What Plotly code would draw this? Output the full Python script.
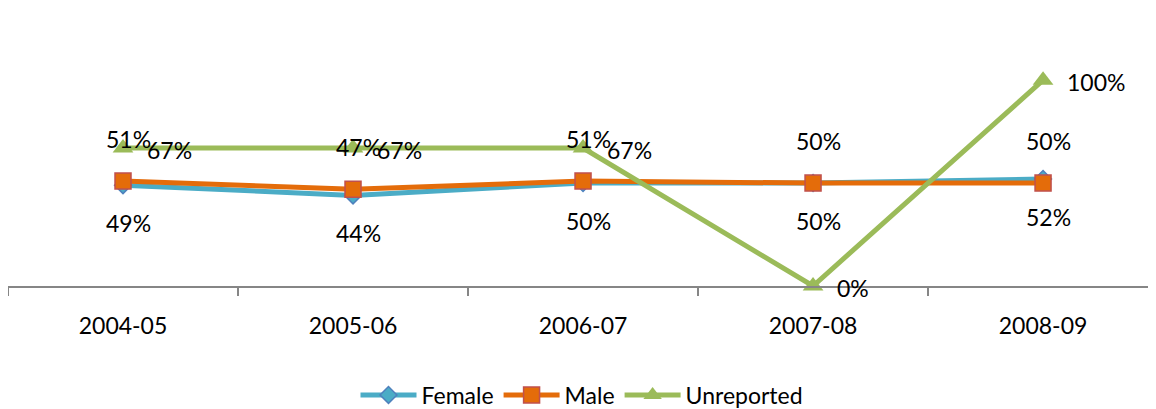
import plotly.graph_objects as go

years = ["2004-05", "2005-06", "2006-07", "2007-08", "2008-09"]
female = [0.49, 0.44, 0.50, 0.50, 0.52]
male = [0.51, 0.47, 0.51, 0.50, 0.50]
unreported = [0.67, 0.67, 0.67, 0.00, 1.00]

FONT = "Lato"
FS = 23

fig = go.Figure()
fig.add_trace(go.Scatter(
    x=years, y=female, name="Female", mode="lines+markers",
    line=dict(color="#4BACC6", width=5),
    marker=dict(symbol="diamond", size=13, color="#4BACC6",
                line=dict(color="#4F81BD", width=1.5)),
    cliponaxis=False))
fig.add_trace(go.Scatter(
    x=years, y=male, name="Male", mode="lines+markers",
    line=dict(color="#E46C0A", width=5),
    marker=dict(symbol="square", size=16, color="#E46C0A",
                line=dict(color="#C0504D", width=1.5)),
    cliponaxis=False))
fig.add_trace(go.Scatter(
    x=years, y=unreported, name="Unreported", mode="lines+markers",
    line=dict(color="#9BBB59", width=5),
    marker=dict(symbol="triangle-up", size=18, color="#9BBB59"),
    cliponaxis=False))

ann = []
for x, v in zip(years, female):
    ann.append(dict(x=x, y=v, text=f"{v:.0%}", showarrow=False,
                    yshift=-38, xshift=5, font=dict(family=FONT, size=FS, color="#000")))
for x, v in zip(years, male):
    ann.append(dict(x=x, y=v, text=f"{v:.0%}", showarrow=False,
                    yshift=42, xshift=5, font=dict(family=FONT, size=FS, color="#000")))
for x, v in zip(years, unreported):
    ann.append(dict(x=x, y=v, text=f"{v:.0%}", showarrow=False, xanchor="left",
                    yshift=-2, xshift=22, font=dict(family=FONT, size=FS, color="#000")))

# page body has an 8px margin, so the figure is 8px smaller than the window
fig.update_layout(
    width=1148, height=401,
    margin=dict(l=0, r=0, t=31, b=123),
    paper_bgcolor="white", plot_bgcolor="white",
    font=dict(family=FONT, size=FS, color="#000"),
    annotations=ann,
    showlegend=True,
    legend=dict(orientation="h", x=0.5, xanchor="center", yref="container",
                y=14 / 401, yanchor="middle", font=dict(family=FONT, size=FS),
                itemwidth=56, tracegroupgap=0),
    xaxis=dict(type="category", range=[-0.5, 4.491], showgrid=False,
               showline=True, linecolor="#868686", linewidth=2,
               ticks="outside", tickson="boundaries", ticklen=8,
               tickcolor="#868686", tickwidth=2, ticklabelstandoff=18,
               tickfont=dict(family=FONT, size=FS), zeroline=False),
    yaxis=dict(range=[0, 1.2], visible=False, showgrid=False, zeroline=False),
)

fig.write_html("out.html")
